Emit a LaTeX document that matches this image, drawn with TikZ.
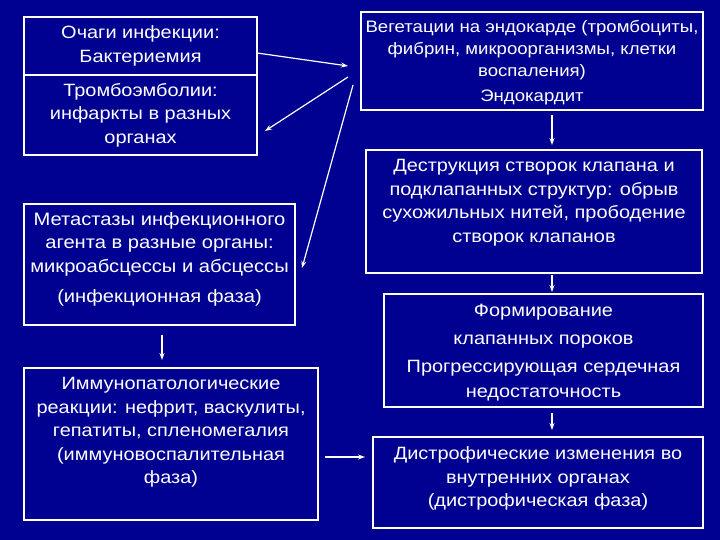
\documentclass[tikz,border=0pt]{standalone}
\usepackage{fontspec}
\setmainfont{Liberation Sans}
\newfontfamily\slidefont{Liberation Sans}[FakeStretch=1.12]
\usetikzlibrary{arrows.meta,positioning}
\definecolor{slideblue}{RGB}{0,0,145}
\begin{document}
\begin{tikzpicture}[x=1bp, y=-1bp,
        frame/.style={draw=white, line width=1.6bp, inner sep=0pt, outer sep=0pt},
        txt/.style={text=white, align=center, inner sep=0pt, font=\slidefont\fontsize{17.8bp}{23.5bp}\selectfont},
        arr/.style={draw=white, line width=1.2bp, -{Stealth[length=7bp, width=5bp]}}]
                \useasboundingbox (0,0) rectangle (720,540);
                \fill[slideblue] (0,0) rectangle (720,540);
                \node[frame, minimum width=233bp, minimum height=58bp] (foci) at (140.5,46) {};
                \node[frame, minimum width=233bp, minimum height=80bp, below=0pt of foci] (emb) {};
                \node[frame, minimum width=271bp, minimum height=121bp] (meta) at (159.5,264.5) {};
                \node[frame, minimum width=294bp, minimum height=152bp] (immuno) at (171,444) {};
                \node[frame, minimum width=342bp, minimum height=98bp] (veg) at (532,61) {};
                \node[frame, minimum width=336bp, minimum height=123bp] (destr) at (534,211.5) {};
                \node[frame, minimum width=319bp, minimum height=113bp] (form) at (543.5,350.5) {};
                \node[frame, minimum width=330bp, minimum height=91bp] (dystr) at (538,482.5) {};
                \node[txt] (foci-t) at (foci) {Очаги инфекции:\\Бактериемия};
                \node[txt] (emb-t) at (emb) {Тромбоэмболии:\\инфаркты в разных\\органах};
                \node[txt, font=\slidefont\fontsize{18bp}{23.5bp}\selectfont, yshift=5.5bp] (meta-t) at (meta) {Метастазы инфекционного\\агента в разные органы:\\микроабсцессы и абсцессы\\[6.5bp](инфекционная фаза)};
                \node[txt, yshift=11.5bp] (immuno-t) at (immuno) {Иммунопатологические\\реакции: нефрит, васкулиты,\\гепатиты, спленомегалия\\(иммуновоспалительная\\фаза)};
                \node[txt, font=\slidefont\fontsize{16.6bp}{22bp}\selectfont, yshift=-2bp] (veg-t) at (veg) {Вегетации на эндокарде (тромбоциты,\\фибрин, микроорганизмы, клетки\\воспаления)\\[3bp]Эндокардит};
                \node[txt, yshift=9bp] (destr-t) at (destr) {Деструкция створок клапана и\\подклапанных структур: обрыв\\сухожильных нитей, прободение\\створок клапанов};
                \node[txt, yshift=-2bp] (form-t) at (form) {Формирование\\[4.5bp]клапанных пороков\\[4.5bp]Прогрессирующая сердечная\\[1.5bp]недостаточность};
                \node[txt, yshift=4bp] (dystr-t) at (dystr) {Дистрофические изменения во\\внутренних органах\\(дистрофическая фаза)};
                \coordinate (vx) at (552,0);
                \coordinate (lx) at (162,0);
                \coordinate (hy) at (0,457);
                \draw[arr] ([yshift=-7bp]foci.east) -- ([xshift=-13bp, yshift=-5bp]veg.west);
                \draw[arr] ([xshift=-13bp, yshift=-16bp]veg.west) -- ([xshift=8bp, yshift=-16bp]emb.east);
                \draw[arr] ([xshift=-8bp, yshift=-24bp]veg.west) -- ([xshift=7bp, yshift=-3.5bp]meta.east);
                \draw[arr, shorten <=5bp, shorten >=5bp] (veg.south -| vx) -- (destr.north -| vx);
                \draw[arr, shorten <=2bp, shorten >=2bp] (destr.south -| vx) -- (form.north -| vx);
                \draw[arr, shorten <=6bp, shorten >=7bp] (form.south -| vx) -- (dystr.north -| vx);
                \draw[arr, shorten <=10bp, shorten >=8bp] (meta.south -| lx) -- (immuno.north -| lx);
                \draw[arr, shorten <=7bp, shorten >=8bp] (immuno.east |- hy) -- (dystr.west |- hy);
\end{tikzpicture}
\end{document}
